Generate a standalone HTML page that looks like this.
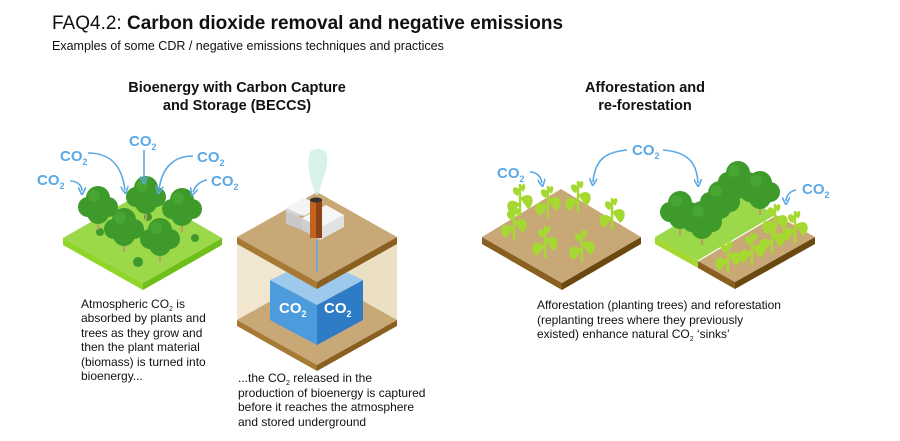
<!DOCTYPE html>
<html><head><meta charset="utf-8"><style>
html,body{margin:0;padding:0;background:#fff}
svg{display:block}
text{font-family:"Liberation Sans",Arial,sans-serif}
</style></head><body>
<svg width="900" height="441" viewBox="0 0 900 441" xmlns="http://www.w3.org/2000/svg">
<defs>
<marker id="ah" markerWidth="8" markerHeight="8" refX="4" refY="4" orient="auto" markerUnits="userSpaceOnUse">
<path d="M0,0 L8,4 L0,8" fill="none" stroke="#5aa9e6" stroke-width="1.6"/></marker>
<g id="tree"><rect x="-1" y="0" width="2" height="20" fill="#b5a060"/><circle cx="0" cy="-12" r="12" fill="#3e9a2a"/><circle cx="-10" cy="-3" r="10" fill="#3e9a2a"/><circle cx="10" cy="-3" r="10" fill="#3e9a2a"/><circle cx="0" cy="3" r="11" fill="#3e9a2a"/><circle cx="-4" cy="-14" r="6" fill="#47a532"/></g>
<g id="plant"><path d="M0,18 L0,-14" stroke="#a6d832" stroke-width="2.5"/><path d="M0,6 C-14,-4 -16,12 -8,16 Z" fill="#a6d832"/><path d="M0,0 C14,-9 16,6 8,11 Z" fill="#a6d832"/><path d="M0,-8 C-8,-16 -10,-4 -2,-2 Z" fill="#a6d832"/><path d="M0,-10 C4,-18 8,-12 3,-6 Z" fill="#a6d832"/></g>
</defs>
<text x="52" y="29" font-size="19" fill="#111">FAQ4.2: <tspan font-weight="bold">Carbon dioxide removal and negative emissions</tspan></text>
<text x="52" y="50" font-size="12.5" fill="#111">Examples of some CDR / negative emissions techniques and practices</text>
<text x="237" y="92" font-size="14.5" font-weight="bold" text-anchor="middle" fill="#111">Bioenergy with Carbon Capture</text>
<text x="237" y="110" font-size="14.5" font-weight="bold" text-anchor="middle" fill="#111">and Storage (BECCS)</text>
<text x="645" y="92" font-size="14.5" font-weight="bold" text-anchor="middle" fill="#111">Afforestation and</text>
<text x="645" y="110" font-size="14.5" font-weight="bold" text-anchor="middle" fill="#111">re-forestation</text>

<!-- forest tile -->
<path d="M63,238 L143,283 L143,290 L63,245 Z" fill="#8fd62a"/>
<path d="M143,283 L222,238 L222,245 L143,290 Z" fill="#6fbf1a"/>
<path d="M63,238 L143,192 L222,238 L143,283 Z" fill="#9bd84a"/>
<circle cx="138" cy="262" r="5" fill="#3e9a2a"/><circle cx="148" cy="217" r="4" fill="#3e9a2a"/><circle cx="195" cy="238" r="4" fill="#3e9a2a"/><circle cx="100" cy="232" r="4" fill="#3e9a2a"/>
<use href="#tree" x="98" y="210"/><use href="#tree" x="146" y="200"/><use href="#tree" x="182" y="212"/>
<use href="#tree" x="124" y="232"/><use href="#tree" x="160" y="242"/>
<g fill="#5aa9e6" font-weight="bold" font-size="15">
<text x="37" y="185">CO<tspan font-size="9" dy="4">2</tspan></text>
<text x="60" y="161">CO<tspan font-size="9" dy="4">2</tspan></text>
<text x="129" y="146">CO<tspan font-size="9" dy="4">2</tspan></text>
<text x="197" y="162">CO<tspan font-size="9" dy="4">2</tspan></text>
<text x="211" y="186">CO<tspan font-size="9" dy="4">2</tspan></text>
<text x="497" y="178">CO<tspan font-size="9" dy="4">2</tspan></text>
<text x="632" y="155">CO<tspan font-size="9" dy="4">2</tspan></text>
<text x="802" y="194">CO<tspan font-size="9" dy="4">2</tspan></text>
</g>
<g fill="none" stroke="#5aa9e6" stroke-width="1.6" marker-end="url(#ah)">
<path d="M70,181 C78,181 82,186 82,191"/>
<path d="M88,153 C110,153 122,165 125,190"/>
<path d="M144,150 L144,180"/>
<path d="M193,156 C175,156 162,166 159,190"/>
<path d="M207,180 C200,181 195,186 193,192"/>
<path d="M530,172 C537,172 541,177 542,183"/>
<path d="M627,150 C605,152 595,160 593,182"/>
<path d="M663,150 C690,152 697,165 698,183"/>
<path d="M796,190 C790,191 786,196 786,201"/>
</g>

<!-- BECCS box -->
<path d="M237,240 L317,285 L317,370 L237,325 Z" fill="#f1e6cf"/>
<path d="M317,285 L397,240 L397,325 L317,370 Z" fill="#ece0c4"/>
<path d="M237,320 L317,275 L397,320 L317,365 Z" fill="#c8a877"/>
<path d="M237,320 L317,365 L317,371 L237,326 Z" fill="#a67a34"/>
<path d="M317,365 L397,320 L397,326 L317,371 Z" fill="#8a6020"/>
<path d="M270,280 L317,305 L317,345 L270,320 Z" fill="#4c9bdc"/>
<path d="M317,305 L363,280 L363,320 L317,345 Z" fill="#2e7cc6"/>
<path d="M270,280 L317,258 L363,280 L317,305 Z" fill="#9cc9ec"/>
<text x="279" y="313" font-size="15" font-weight="bold" fill="#fff">CO<tspan font-size="9" dy="4">2</tspan></text>
<text x="324" y="313" font-size="15" font-weight="bold" fill="#fff">CO<tspan font-size="9" dy="4">2</tspan></text>
<path d="M237,237 L317,192 L397,237 L317,282 Z" fill="#c8a877"/>
<path d="M237,237 L317,282 L317,289 L237,244 Z" fill="#a67a34"/>
<path d="M317,282 L397,237 L397,244 L317,289 Z" fill="#8a6020"/>
<line x1="317" y1="240" x2="317" y2="272" stroke="#5aa9e6" stroke-width="1.5"/>
<!-- building -->
<path d="M286,208 L304,198 L304,214 L286,224 Z" fill="#d4d4d4"/>
<path d="M286,208 L304,198 L322,206 L304,216 Z" fill="#f4f4f4"/>
<path d="M302,218 L320,228 L320,240 L302,230 Z" fill="#cfcfcf"/>
<path d="M320,228 L344,215 L344,227 L320,240 Z" fill="#e2e2e2"/>
<path d="M302,218 L326,205 L344,215 L320,228 Z" fill="#f6f6f6"/>
<path d="M286,224 L302,230 L302,218 L286,212 Z" fill="#c8c8c8"/>
<rect x="310" y="200" width="12" height="38" fill="#c3621e"/>
<rect x="316" y="200" width="6" height="38" fill="#8e4412"/>
<ellipse cx="316" cy="200" rx="6" ry="2.5" fill="#333"/>
<path d="M316,195 C310,180 306,165 310,152 C314,148 322,148 326,152 C330,165 322,180 318,195 Z" fill="#cdeee6" opacity="0.8"/>

<!-- right tile 1 -->
<path d="M482,237 L562,283 L562,290 L482,244 Z" fill="#8a6020"/>
<path d="M562,283 L641,237 L641,244 L562,290 Z" fill="#6b4810"/>
<path d="M482,237 L561,189 L641,237 L562,283 Z" fill="#c8a877"/>
<use href="#plant" x="514" y="222"/><use href="#plant" x="548" y="200"/><use href="#plant" x="578" y="195"/>
<use href="#plant" x="612" y="212"/><use href="#plant" x="545" y="240"/><use href="#plant" x="582" y="244"/><use href="#plant" x="520" y="198"/>

<!-- right tile 2 -->
<path d="M655,237 L698,261 L698,268 L655,244 Z" fill="#a6d832"/>
<path d="M698,261 L735,282 L735,289 L698,268 Z" fill="#8a6020"/>
<path d="M735,282 L815,237 L815,244 L735,289 Z" fill="#6b4810"/>
<path d="M655,237 L735,191 L776,215 L698,261 Z" fill="#9bd84a"/>
<path d="M698,261 L776,215 L815,237 L735,282 Z" fill="#c8a877"/>
<path d="M698,261 L776,215" stroke="#fff" stroke-width="1.2"/>
<use href="#tree" x="738" y="185"/><use href="#tree" x="760" y="195"/><use href="#tree" x="720" y="205"/><use href="#tree" x="680" y="215"/><use href="#tree" x="702" y="225"/>
<use href="#plant" x="728" y="255"/><use href="#plant" x="752" y="247"/><use href="#plant" x="772" y="236"/><use href="#plant" x="795" y="225"/><use href="#plant" x="775" y="218"/>

<!-- body text -->
<g font-size="12" fill="#111">
<text x="81" y="308">Atmospheric CO<tspan font-size="7" dy="3">2</tspan><tspan dy="-3"> is</tspan></text>
<text x="81" y="322">absorbed by plants and</text>
<text x="81" y="337">trees as they grow and</text>
<text x="81" y="351">then the plant material</text>
<text x="81" y="366">(biomass) is turned into</text>
<text x="81" y="380">bioenergy...</text>
<text x="238" y="382">...the CO<tspan font-size="7" dy="3">2</tspan><tspan dy="-3"> released in the</tspan></text>
<text x="238" y="397">production of bioenergy is captured</text>
<text x="238" y="411">before it reaches the atmosphere</text>
<text x="238" y="426">and stored underground</text>
<text x="537" y="309">Afforestation (planting trees) and reforestation</text>
<text x="537" y="324">(replanting trees where they previously</text>
<text x="537" y="338">existed) enhance natural CO<tspan font-size="7" dy="3">2</tspan><tspan dy="-3"> ‘sinks’</tspan></text>
</g>
</svg>
</body></html>
